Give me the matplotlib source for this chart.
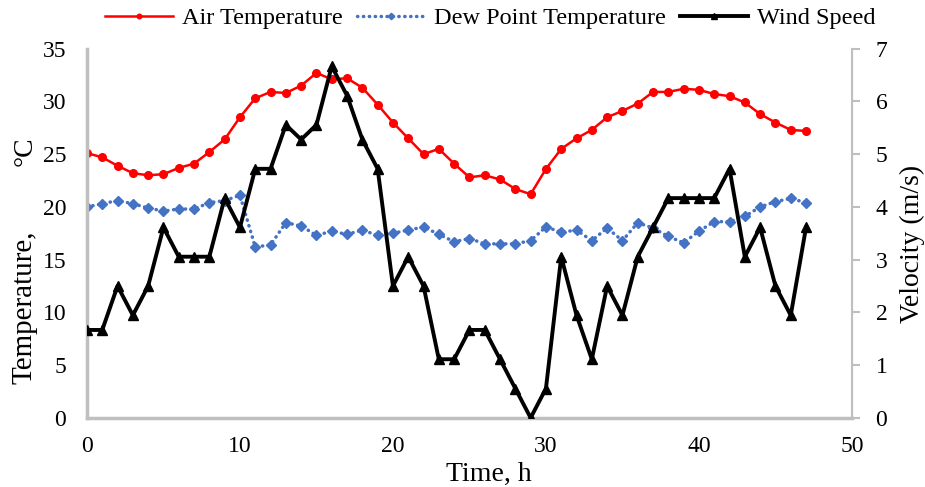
import matplotlib.pyplot as plt

plt.rcParams['font.family'] = ['Liberation Serif', 'DejaVu Serif']

hours = list(range(48))
air_temp = [25.1, 24.7, 23.9, 23.2, 23.0, 23.1, 23.7, 24.1, 25.2, 26.4,
            28.5, 30.3, 30.9, 30.8, 31.5, 32.7, 32.1, 32.2, 31.3, 29.7,
            28.0, 26.5, 25.0, 25.5, 24.1, 22.8, 23.0, 22.6, 21.7, 21.2,
            23.6, 25.5, 26.5, 27.3, 28.5, 29.1, 29.8, 30.9, 30.9, 31.2,
            31.1, 30.7, 30.5, 29.9, 28.8, 28.0, 27.3, 27.2]
dew_point = [20.0, 20.3, 20.6, 20.3, 19.9, 19.6, 19.8, 19.8, 20.4, 20.6,
             21.1, 16.2, 16.4, 18.5, 18.2, 17.3, 17.7, 17.4, 17.8, 17.3,
             17.5, 17.8, 18.1, 17.4, 16.7, 17.0, 16.5, 16.5, 16.5, 16.8,
             18.1, 17.6, 17.8, 16.8, 18.0, 16.8, 18.5, 18.0, 17.2, 16.6,
             17.7, 18.6, 18.6, 19.1, 20.0, 20.5, 20.8, 20.4]
# wind speed recorded in km/h, plotted in m/s
wind_kmh = [6, 6, 9, 7, 9, 13, 11, 11, 11, 15,
            13, 17, 17, 20, 19, 20, 24, 22, 19, 17,
            9, 11, 9, 4, 4, 6, 6, 4, 2, 0,
            2, 11, 7, 4, 9, 7, 11, 13, 15, 15,
            15, 15, 17, 11, 13, 9, 7, 13]
wind_speed = [v / 3.6 for v in wind_kmh]

fig = plt.figure(figsize=(9.25, 4.87), dpi=100)
ax = fig.add_axes([0.094, 0.142, 0.827, 0.758])
ax2 = ax.twinx()

l1, = ax.plot(hours, air_temp, color='#FF0000', linewidth=1.8, marker='o',
              markersize=5.5, label='Air Temperature')
l2, = ax.plot(hours, dew_point, color='#4472C4', linewidth=2.5, linestyle=(0, (0.1, 1.6)),
              dash_capstyle='round', marker='D', markersize=5.5, label='Dew Point Temperature')
l3, = ax2.plot(hours, wind_speed, color='black', linewidth=2.8, marker='^',
               markersize=7, label='Wind Speed')

ax.set_xlim(0, 50)
ax.set_ylim(0, 35)
ax2.set_ylim(0, 7)
ax.set_xticks(range(0, 51, 10))
ax.set_yticks(range(0, 36, 5))
ax2.set_yticks(range(0, 8))

gray = '#BFBFBF'
for a in (ax, ax2):
    a.spines['top'].set_visible(False)
    a.spines['left'].set_color(gray)
    a.spines['bottom'].set_color(gray)
    a.spines['right'].set_color(gray)
ax.spines['left'].set_linewidth(2.5)
ax.spines['bottom'].set_linewidth(2.5)
ax2.spines['left'].set_visible(False)
ax2.spines['bottom'].set_visible(False)
ax2.spines['right'].set_linewidth(1.5)

ax.tick_params(axis='y', length=0, labelsize=17, pad=15)
ax.tick_params(axis='x', length=0, labelsize=17, pad=13)
ax2.tick_params(axis='y', length=6, width=1.5, color=gray, labelsize=17, pad=11)

# axis titles
fig.text(0.528, 0.025, 'Time, h', fontsize=20, ha='center', va='center')
fig.text(0.027, 0.37, 'Temperature,', fontsize=21, rotation=90, ha='center', va='center')
fig.text(0.027, 0.69, '°C', fontsize=20, rotation=90, ha='center', va='center')
fig.text(0.986, 0.50, 'Velocity (m/s)', fontsize=20, rotation=90, ha='center', va='center')

fig.legend(handles=[l1, l2, l3], loc='center', bbox_to_anchor=(0.53, 0.963),
           ncol=3, frameon=False, fontsize=17.5, handlelength=2.8, columnspacing=0.6,
           handletextpad=0.35, markerscale=0.6)

fig.savefig('out.png', dpi=100)
